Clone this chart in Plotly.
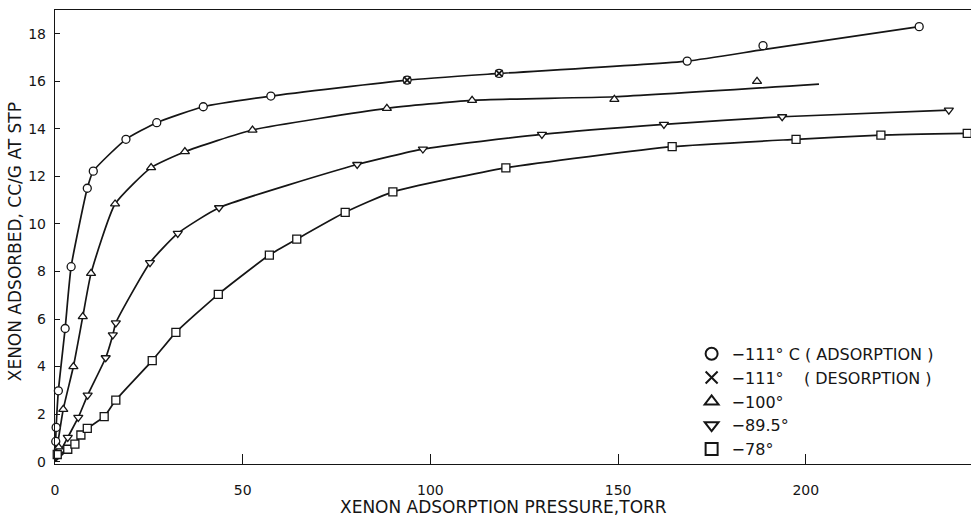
import plotly.graph_objects as go

# ---- data ----
# -111 C adsorption (circles)
ads111_x = [0.2, 0.3, 0.9, 2.7, 4.3, 8.6, 10.2, 18.9, 27.1, 39.5, 57.5, 93.8, 118.3, 168.4, 188.6, 230.2]
ads111_y = [0.85, 1.44, 2.98, 5.6, 8.2, 11.5, 12.22, 13.56, 14.26, 14.93, 15.38, 16.05, 16.33, 16.85, 17.5, 18.3]
# -111 C desorption (crosses)
des111_x = [93.8, 118.3]
des111_y = [16.05, 16.33]
# -100 C (triangles)
t100_x = [1.0, 2.2, 4.9, 7.4, 9.6, 16.0, 25.6, 34.6, 52.6, 88.4, 111.1, 149.0, 187.0]
t100_y = [0.6, 2.2, 4.0, 6.1, 7.92, 10.84, 12.37, 13.04, 13.95, 14.86, 15.2, 15.24, 16.0]
# -89.5 C (inverted triangles)
t895_x = [1.5, 3.4, 6.2, 8.7, 13.5, 15.4, 16.2, 25.3, 32.7, 43.7, 80.5, 98.0, 129.7, 162.2, 193.7, 238.1]
t895_y = [0.45, 1.02, 1.86, 2.8, 4.37, 5.33, 5.84, 8.37, 9.6, 10.68, 12.5, 13.15, 13.77, 14.19, 14.51, 14.79]
# -78 C (squares)
t78_x = [0.6, 3.4, 5.3, 6.9, 8.6, 13.1, 16.2, 25.9, 32.2, 43.5, 57.1, 64.4, 77.3, 90.0, 120.1, 164.4, 197.4, 220.0, 243.0]
t78_y = [0.3, 0.52, 0.74, 1.12, 1.4, 1.89, 2.59, 4.25, 5.44, 7.04, 8.69, 9.36, 10.49, 11.35, 12.36, 13.25, 13.56, 13.74, 13.81]

# hand-drawn smooth curves
c111_x = [0.0, 0.3, 0.9, 2.7, 4.3, 8.6, 10.2, 18.9, 27.1, 39.5, 57.5, 93.8, 118.3, 168.4, 188.6, 230.2]
c111_y = [0.2, 1.44, 2.98, 5.6, 8.2, 11.5, 12.22, 13.56, 14.26, 14.93, 15.38, 16.05, 16.33, 16.85, 17.33, 18.3]
c100_x = [0.0, 2.2, 4.9, 7.4, 9.6, 16.0, 25.6, 34.6, 52.6, 88.4, 111.1, 149.0, 203.5]
c100_y = [0.0, 2.2, 4.0, 6.1, 7.92, 10.84, 12.37, 13.04, 13.95, 14.86, 15.2, 15.35, 15.88]
c895_x = [0.0, 3.4, 6.2, 8.7, 13.5, 15.4, 16.2, 25.3, 32.7, 43.7, 80.5, 98.0, 129.7, 162.2, 193.7, 238.1]
c895_y = [0.0, 1.02, 1.86, 2.8, 4.37, 5.33, 5.84, 8.37, 9.6, 10.68, 12.5, 13.15, 13.77, 14.19, 14.51, 14.79]
c78_x = [0.0, 3.4, 5.3, 6.9, 8.6, 13.1, 16.2, 25.9, 32.2, 43.5, 57.1, 64.4, 77.3, 90.0, 120.1, 164.4, 197.4, 220.0, 243.0]
c78_y = [0.0, 0.52, 0.74, 1.12, 1.4, 1.89, 2.59, 4.25, 5.44, 7.04, 8.69, 9.36, 10.49, 11.35, 12.36, 13.25, 13.56, 13.74, 13.81]

x_ticks = [0, 50, 100, 150, 200]
y_ticks = [0, 2, 4, 6, 8, 10, 12, 14, 16, 18]

legend_names = ["−111° C ( ADSORPTION )",
                "−111°\u00a0\u00a0\u00a0\u00a0( DESORPTION )",
                "−100°", "−89.5°", "−78°"]

INK = "#151515"
FONT = "DejaVu Sans"

fig = go.Figure()

for cx, cy in [(c111_x, c111_y), (c100_x, c100_y), (c895_x, c895_y), (c78_x, c78_y)]:
    fig.add_trace(go.Scatter(x=cx, y=cy, mode="lines", showlegend=False, hoverinfo="skip",
                             line=dict(color=INK, width=1.7, shape="spline", smoothing=0.5)))

def mk(symbol, size=8):
    return dict(symbol=symbol, size=size, color="white", line=dict(color=INK, width=1.3))

fig.add_trace(go.Scatter(x=ads111_x, y=ads111_y, mode="markers", name=legend_names[0],
                         marker=mk("circle"), cliponaxis=False))
fig.add_trace(go.Scatter(x=des111_x, y=des111_y, mode="markers", name=legend_names[1],
                         marker=dict(symbol="x-thin", size=7, color=INK, line=dict(color=INK, width=1.8)),
                         cliponaxis=False))
fig.add_trace(go.Scatter(x=t100_x, y=t100_y, mode="markers", name=legend_names[2],
                         marker=mk("triangle-up"), cliponaxis=False))
fig.add_trace(go.Scatter(x=t895_x, y=t895_y, mode="markers", name=legend_names[3],
                         marker=mk("triangle-down"), cliponaxis=False))
fig.add_trace(go.Scatter(x=t78_x, y=t78_y, mode="markers", name=legend_names[4],
                         marker=mk("square", 8), cliponaxis=False))

fig.update_layout(
    width=971, height=526,
    margin=dict(l=55, r=0, t=10, b=62),
    paper_bgcolor="white", plot_bgcolor="white",
    font=dict(family=FONT, color=INK, size=14),
    showlegend=True,
    legend=dict(x=0.695, y=0.28, xanchor="left", yanchor="top", bgcolor="rgba(0,0,0,0)",
                font=dict(family=FONT, size=16, color=INK), itemsizing="constant"),
    xaxis=dict(range=[0, 244], tickvals=x_ticks, ticktext=[str(v) for v in x_ticks],
               ticks="inside", ticklen=10, tickwidth=1.3, tickcolor=INK,
               showline=True, linecolor=INK, linewidth=1.2, mirror=True,
               showgrid=False, zeroline=False, ticklabelstandoff=13,
               tickfont=dict(size=14, family=FONT)),
    yaxis=dict(range=[-0.1, 19.0], tickvals=y_ticks, ticktext=[str(v) for v in y_ticks],
               ticks="inside", ticklen=5, tickwidth=1.2, tickcolor=INK,
               showline=True, linecolor=INK, linewidth=1.4,
               showgrid=False, zeroline=False, ticklabelstandoff=5,
               tickfont=dict(size=14, family=FONT)),
    annotations=[
        dict(text="XENON ADSORPTION PRESSURE,TORR", xref="paper", yref="paper", x=0.49, y=-0.0947,
             xanchor="center", yanchor="middle", showarrow=False, font=dict(size=17, family=FONT)),
        dict(text="XENON ADSORBED, CC/G AT STP", xref="paper", yref="paper", x=-0.044, y=0.49,
             xanchor="center", yanchor="middle", textangle=-90, showarrow=False,
             font=dict(size=17, family=FONT)),
    ],
)

fig.write_html("out.html")
